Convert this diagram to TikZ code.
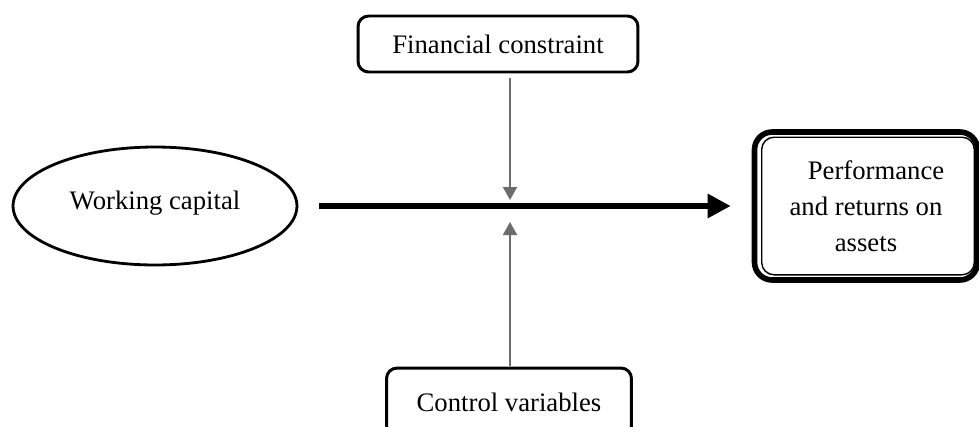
\documentclass[tikz,border=0pt]{standalone}
\usepackage{fontspec}
\setmainfont{Liberation Serif}
\usepackage{tikz}
\usetikzlibrary{calc,shapes.geometric,arrows.meta}

\begin{document}
\begin{tikzpicture}[
        x=0.02cm, y=-0.02cm,
        font=\fontsize{15.2}{20.5}\selectfont,
        box/.style={rectangle, rounded corners=6pt, draw=black, line width=1.7pt, align=center},
        factor/.style={box, minimum width=5.6cm, minimum height=1.12cm},
        concept/.style={ellipse, draw=black, line width=1.6pt, minimum width=5.68cm, minimum height=2.36cm},
        outcome/.style={box, line width=3.2pt, rounded corners=10pt, minimum width=4.46cm, minimum height=2.96cm},
        mainarrow/.style={line width=3.6pt, -{Triangle[length=0.46cm,width=0.46cm]}},
        effect/.style={line width=1.1pt, draw=gray!85!black, -{Triangle[length=0.26cm,width=0.28cm]}}
    ]
        \useasboundingbox (0,0) rectangle (979,426);

        \node[concept] (capital) at (155,206) {\raisebox{6pt}{Working capital}};
        \node[factor] (constraint) at (498,44) {Financial constraint};
        \node[factor, minimum width=4.9cm, minimum height=1.36cm] (controls) at (509,402) {Control variables};
        \node[outcome] (performance) at (866,206) {
            \hspace*{0.4cm}Performance\\
            and returns on\\
            assets
        };
        \draw[line width=0.8pt, rounded corners=7pt]
            ($(performance.north west)+(10,8)$) rectangle ($(performance.south east)+(-6,-8)$);

        \coordinate (hub) at (510,205);

        \draw[mainarrow, shorten <=0.42cm, shorten >=0.42cm] (capital.east) -- (performance.west);
        \draw[effect, shorten <=0.1cm] (constraint.south -| hub) -- ($(hub)+(0,-5)$);
        \draw[effect, shorten <=0.02cm] (controls.north -| hub) -- ($(hub)+(0,17)$);
    \end{tikzpicture}
\end{document}
